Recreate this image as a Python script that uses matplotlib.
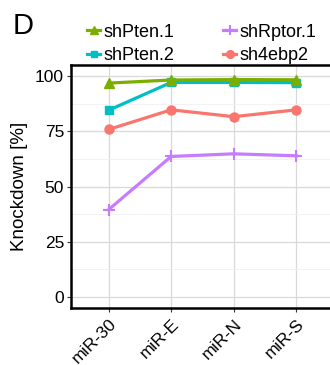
import matplotlib
matplotlib.use('Agg')
import matplotlib.pyplot as plt
from matplotlib.ticker import MultipleLocator

# data
constructs = ['miR-30', 'miR-E', 'miR-N', 'miR-S']
shPten1 = [96.8, 98.2, 98.4, 98.3]
shPten2 = [84.5, 97.1, 97.1, 97.0]
shRptor1 = [39.5, 63.6, 64.8, 63.9]
sh4ebp2 = [75.8, 84.7, 81.6, 84.7]

plt.rcParams['font.family'] = ['Liberation Sans', 'DejaVu Sans']

fig = plt.figure(figsize=(3.3, 3.65), dpi=100)
ax = fig.add_axes([0.215, 0.156, 0.797, 0.666])

x = range(len(constructs))
h_r, = ax.plot(x, shRptor1, color='#C77CFF', lw=2.3, marker='+', ms=8, mew=1.5, zorder=3)
h_4, = ax.plot(x, sh4ebp2, color='#F8766D', lw=2.3, marker='o', ms=6.5, zorder=3)
h_2, = ax.plot(x, shPten2, color='#00BFC4', lw=2.3, marker='s', ms=5.5, zorder=3)
h_1, = ax.plot(x, shPten1, color='#7CAE00', lw=2.3, marker='^', ms=6.5, zorder=4)

ax.set_xlim(-0.6, 3.6)
ax.set_ylim(-5, 105)
ax.yaxis.set_major_locator(MultipleLocator(25))
ax.yaxis.set_minor_locator(MultipleLocator(12.5))
ax.set_xticks(list(x))
ax.set_xticklabels(constructs, rotation=45, ha='right', va='top',
                   rotation_mode='anchor', fontsize=12.5, color='black')
ax.tick_params(axis='y', labelsize=12.5, labelcolor='black', pad=2)
ax.tick_params(axis='x', pad=3)
ax.tick_params(which='major', length=3, width=0.8, color='#333333')
ax.tick_params(which='minor', length=0)

ax.grid(which='major', color='#d9d9d9', lw=0.9)
ax.grid(which='minor', axis='y', color='#f0f0f0', lw=0.6)
ax.set_axisbelow(True)
for s in ax.spines.values():
    s.set_linewidth(1.8)
    s.set_color('black')

ax.set_ylabel('Knockdown [%]', fontsize=13.5, labelpad=5)

leg = fig.legend([h_1, h_2, h_r, h_4], ['shPten.1', 'shPten.2', 'shRptor.1', 'sh4ebp2'],
                 ncol=2, loc='center left', bbox_to_anchor=(0.265, 0.88),
                 frameon=False, fontsize=13, handlelength=0.7, borderpad=0,
                 borderaxespad=0, markerscale=0.85,
                 handletextpad=0.2, columnspacing=2.7, labelspacing=0.35)

fig.text(0.038, 0.928, 'D', fontsize=21, ha='left', va='center')

fig.savefig('out.png', dpi=100)
